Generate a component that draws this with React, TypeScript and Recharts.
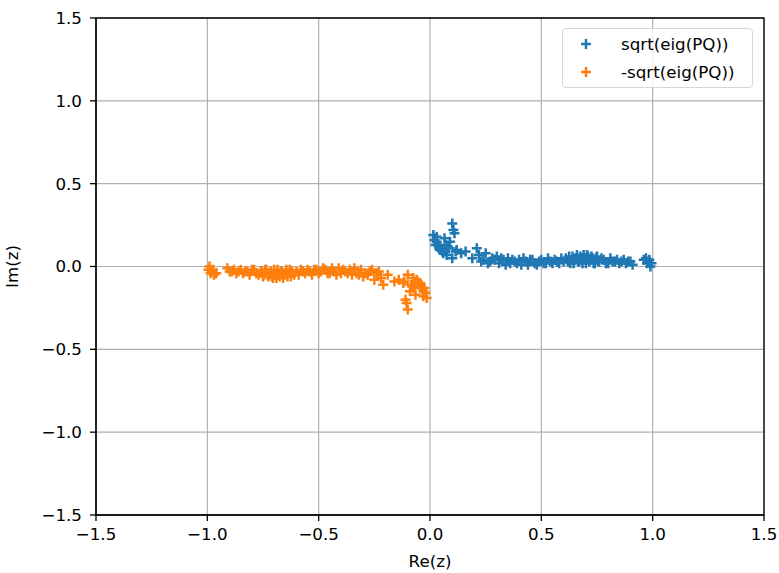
import React from 'react';
import {
  ScatterChart,
  Scatter,
  XAxis,
  YAxis,
  CartesianGrid,
  Legend,
  ReferenceArea,
} from 'recharts';

// values: +sqrt(eig(PQ))
const posRe = [
  0.015, 0.02, 0.025, 0.03, 0.04, 0.045, 0.05, 0.06, 0.065, 0.07,
  0.075, 0.085, 0.09, 0.1, 0.1, 0.105, 0.11, 0.115, 0.12, 0.14,
  0.16, 0.19, 0.21, 0.22, 0.24, 0.25, 0.27, 0.28, 0.3, 0.31,
  0.33, 0.35, 0.36, 0.38, 0.4, 0.41, 0.43, 0.45, 0.47, 0.49,
  0.5, 0.52, 0.54, 0.56, 0.58, 0.6, 0.61, 0.63, 0.64, 0.65,
  0.66, 0.67, 0.68, 0.69, 0.7, 0.71, 0.72, 0.73, 0.74, 0.75,
  0.76, 0.78, 0.79, 0.81, 0.83, 0.85, 0.87, 0.89, 0.91, 0.96,
  0.97, 0.98, 0.99,
  0.23, 0.26, 0.29, 0.32, 0.34, 0.37, 0.39, 0.42, 0.44, 0.46,
  0.48, 0.51, 0.53, 0.55, 0.57, 0.59, 0.62, 0.625, 0.645, 0.655,
  0.665, 0.675, 0.685, 0.695, 0.705, 0.715, 0.725, 0.735, 0.745, 0.755,
  0.77, 0.8, 0.82, 0.84, 0.86, 0.88, 0.9, 0.975, 0.985, 0.995,
  0.03, 0.055, 0.08,
];
const posIm = [
  0.19, 0.16, 0.13, 0.15, 0.12, 0.1, 0.11, 0.08, 0.17, 0.13,
  0.07, 0.11, 0.15, 0.26, 0.05, 0.22, 0.2, 0.09, 0.1, 0.08,
  0.09, 0.05, 0.11, 0.07, 0.04, 0.08, 0.03, 0.05, 0.06, 0.02,
  0.04, 0.05, 0.02, 0.03, 0.04, 0.01, 0.03, 0.04, 0.02, 0.03,
  0.04, 0.02, 0.03, 0.04, 0.02, 0.03, 0.05, 0.02, 0.06, 0.04,
  0.07, 0.03, 0.05, 0.07, 0.02, 0.06, 0.04, 0.05, 0.02, 0.06,
  0.03, 0.04, 0.02, 0.05, 0.03, 0.02, 0.04, 0.03, 0.01, 0.04,
  0.05, 0.03, 0.0,
  0.03, 0.02, 0.04, 0.05, 0.01, 0.04, 0.02, 0.05, 0.01, 0.04,
  0.01, 0.02, 0.05, 0.02, 0.03, 0.05, 0.03, 0.06, 0.02, 0.05,
  0.03, 0.06, 0.02, 0.05, 0.07, 0.03, 0.06, 0.02, 0.05, 0.03,
  0.05, 0.02, 0.03, 0.04, 0.03, 0.02, 0.03, 0.02, 0.04, 0.02,
  0.18, 0.09, 0.12,
];

// -sqrt(eig(PQ))
const negRe = [
  -0.015, -0.02, -0.025, -0.03, -0.04, -0.045, -0.05, -0.06, -0.065, -0.07,
  -0.075, -0.085, -0.09, -0.1, -0.1, -0.105, -0.11, -0.115, -0.12, -0.14,
  -0.16, -0.19, -0.21, -0.22, -0.24, -0.25, -0.27, -0.28, -0.3, -0.31,
  -0.33, -0.35, -0.36, -0.38, -0.4, -0.41, -0.43, -0.45, -0.47, -0.49,
  -0.5, -0.52, -0.54, -0.56, -0.58, -0.6, -0.61, -0.63, -0.64, -0.65,
  -0.66, -0.67, -0.68, -0.69, -0.7, -0.71, -0.72, -0.73, -0.74, -0.75,
  -0.76, -0.78, -0.79, -0.81, -0.83, -0.85, -0.87, -0.89, -0.91, -0.96,
  -0.97, -0.98, -0.99,
  -0.23, -0.26, -0.29, -0.32, -0.34, -0.37, -0.39, -0.42, -0.44, -0.46,
  -0.48, -0.51, -0.53, -0.55, -0.57, -0.59, -0.62, -0.625, -0.645, -0.655,
  -0.665, -0.675, -0.685, -0.695, -0.705, -0.715, -0.725, -0.735, -0.745, -0.755,
  -0.77, -0.8, -0.82, -0.84, -0.86, -0.88, -0.9, -0.975, -0.985, -0.995,
  -0.03, -0.055, -0.08,
];
const negIm = [
  -0.19, -0.16, -0.13, -0.15, -0.12, -0.1, -0.11, -0.08, -0.17, -0.13,
  -0.07, -0.11, -0.15, -0.26, -0.05, -0.22, -0.2, -0.09, -0.1, -0.08,
  -0.09, -0.05, -0.11, -0.07, -0.04, -0.08, -0.03, -0.05, -0.06, -0.02,
  -0.04, -0.05, -0.02, -0.03, -0.04, -0.01, -0.03, -0.04, -0.02, -0.03,
  -0.04, -0.02, -0.03, -0.04, -0.02, -0.03, -0.05, -0.02, -0.06, -0.04,
  -0.07, -0.03, -0.05, -0.07, -0.02, -0.06, -0.04, -0.05, -0.02, -0.06,
  -0.03, -0.04, -0.02, -0.05, -0.03, -0.02, -0.04, -0.03, -0.01, -0.04,
  -0.05, -0.03, 0.0,
  -0.03, -0.02, -0.04, -0.05, -0.01, -0.04, -0.02, -0.05, -0.01, -0.04,
  -0.01, -0.02, -0.05, -0.02, -0.03, -0.05, -0.03, -0.06, -0.02, -0.05,
  -0.03, -0.06, -0.02, -0.05, -0.07, -0.03, -0.06, -0.02, -0.05, -0.03,
  -0.05, -0.02, -0.03, -0.04, -0.03, -0.02, -0.03, -0.02, -0.04, -0.02,
  -0.18, -0.09, -0.12,
];

const ticks = [-1.5, -1.0, -0.5, 0.0, 0.5, 1.0, 1.5];

const BLUE = '#1f77b4';
const ORANGE = '#ff7f0e';
const FONT = '"DejaVu Sans", sans-serif';

const posData = posRe.map((x, i) => ({ x, y: posIm[i] }));
const negData = negRe.map((x, i) => ({ x, y: negIm[i] }));

const fmt = (v: number) => v.toFixed(1).replace('-', '\u2212');

const Plus = (color: string) => (props: any) => {
  const { cx, cy } = props;
  if (cx == null || cy == null) return <g />;
  const h = 5;
  return (
    <path
      d={`M${cx - h},${cy}H${cx + h}M${cx},${cy - h}V${cy + h}`}
      stroke={color}
      strokeWidth={2.5}
      fill="none"
    />
  );
};

const LegendBox = () => (
  <div
    style={{
      width: 189,
      height: 58,
      border: '1px solid #d6d6d6',
      borderRadius: 4,
      background: 'rgba(255,255,255,0.8)',
      fontFamily: FONT,
      fontSize: 16.7,
      color: '#000',
      position: 'relative',
    }}
  >
    {[
      { name: 'sqrt(eig(PQ))', color: BLUE, top: 15 },
      { name: '-sqrt(eig(PQ))', color: ORANGE, top: 43 },
    ].map((it) => (
      <div key={it.name} style={{ position: 'absolute', left: 0, top: it.top - 12, height: 24, display: 'flex', alignItems: 'center' }}>
        <svg width={12} height={12} style={{ marginLeft: 17 }}>
          <path d="M1,6H11M6,1V11" stroke={it.color} strokeWidth={2.5} />
        </svg>
        <span style={{ marginLeft: 29, whiteSpace: 'nowrap' }}>{it.name}</span>
      </div>
    ))}
  </div>
);

const App = () => {
  return (
    <div style={{ position: 'absolute', left: 0, top: 0, background: '#fff' }}>
      <ScatterChart
        width={779}
        height={573}
        margin={{ top: 18, right: 15, left: 0, bottom: 0 }}
      >
        <CartesianGrid stroke="#b0b0b0" strokeWidth={1.2} />
        <XAxis
          type="number"
          dataKey="x"
          domain={[-1.5, 1.5]}
          ticks={ticks}
          tickFormatter={fmt}
          allowDataOverflow
          height={58}
          tickSize={6}
          tickMargin={7}
          axisLine={{ stroke: '#000' }}
          tickLine={{ stroke: '#000', strokeWidth: 1.3 }}
          tick={{ fill: '#000', fontSize: 16.7, fontFamily: FONT }}
          label={{
            value: 'Re(z)',
            position: 'insideBottom',
            offset: 6,
            fill: '#000',
            fontSize: 16.7,
            fontFamily: FONT,
          }}
        />
        <YAxis
          type="number"
          dataKey="y"
          domain={[-1.5, 1.5]}
          ticks={ticks}
          tickFormatter={fmt}
          allowDataOverflow
          width={96}
          tickSize={6}
          tickMargin={8}
          axisLine={{ stroke: '#000' }}
          tickLine={{ stroke: '#000', strokeWidth: 1.3 }}
          tick={{ fill: '#000', fontSize: 16.7, fontFamily: FONT }}
          label={{
            value: 'Im(z)',
            angle: -90,
            position: 'insideLeft',
            offset: 12,
            fill: '#000',
            fontSize: 16.7,
            fontFamily: FONT,
            style: { textAnchor: 'middle' },
          }}
        />
        <Scatter
          name="sqrt(eig(PQ))"
          data={posData}
          fill={BLUE}
          shape={Plus(BLUE)}
          isAnimationActive={false}
        />
        <Scatter
          name="-sqrt(eig(PQ))"
          data={negData}
          fill={ORANGE}
          shape={Plus(ORANGE)}
          isAnimationActive={false}
        />
        <ReferenceArea
          x1={-1.5}
          x2={1.5}
          y1={-1.5}
          y2={1.5}
          fill="none"
          fillOpacity={0}
          stroke="#000"
          strokeWidth={1.3}
        />
        <Legend
          layout="vertical"
          align="center"
          verticalAlign="middle"
          content={() => <LegendBox />}
          wrapperStyle={{ top: 28, left: 562, width: 191, height: 60 }}
        />
      </ScatterChart>
    </div>
  );
};

export default App;
